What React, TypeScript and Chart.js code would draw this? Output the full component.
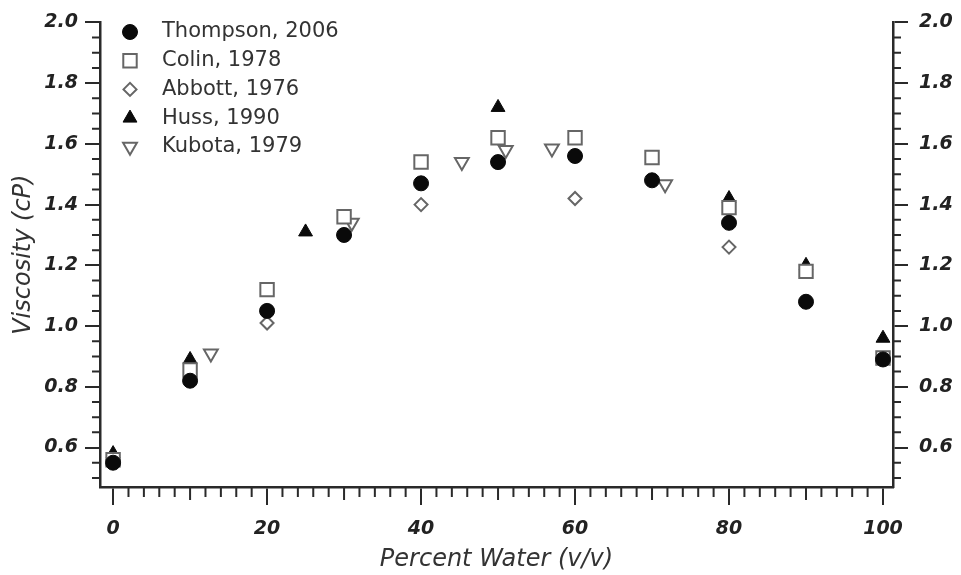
import { useEffect, useRef } from 'react';
import { Chart, registerables } from 'chart.js';
import { drawPoint } from 'chart.js/helpers';

Chart.register(...registerables);

const thompsonX = [0, 10, 20, 30, 40, 50, 60, 70, 80, 90, 100];
const thompsonY = [0.55, 0.82, 1.05, 1.30, 1.47, 1.54, 1.56, 1.48, 1.34, 1.08, 0.89];
const colinX = [0, 10, 20, 30, 40, 50, 60, 70, 80, 90, 100];
const colinY = [0.56, 0.855, 1.12, 1.36, 1.54, 1.62, 1.62, 1.555, 1.39, 1.18, 0.895];
const abbottX = [0, 20, 40, 60, 80];
const abbottY = [0.56, 1.01, 1.40, 1.42, 1.26];
const hussX = [0, 10, 25, 50, 80, 90, 100];
const hussY = [0.58, 0.89, 1.31, 1.72, 1.42, 1.20, 0.96];
const kubotaX = [12.7, 31, 45.3, 51, 57, 71.7];
const kubotaY = [0.91, 1.34, 1.54, 1.58, 1.585, 1.467];

const seriesNames = ['Thompson, 2006', 'Colin, 1978', 'Abbott, 1976', 'Huss, 1990', 'Kubota, 1979'];
const xMajorTicks = [0, 20, 40, 60, 80, 100];
const yMajorTicks = [0.6, 0.8, 1.0, 1.2, 1.4, 1.6, 1.8, 2.0];

const FONT = 'DejaVu Sans';
const AXIS = '#2a2a2a';
const OPEN = '#666';
const TEXT = '#222';

const toPts = (xs: number[], ys: number[]) => xs.map((x, i) => ({ x, y: ys[i] }));

const styles = [
  { pointStyle: 'circle', radius: 7.5, rotation: 0, fill: '#0a0a0a', stroke: '#0a0a0a', bw: 1 },
  { pointStyle: 'rect', radius: 9.5, rotation: 0, fill: '#fff', stroke: OPEN, bw: 2 },
  { pointStyle: 'rectRot', radius: 6.5, rotation: 0, fill: '#fff', stroke: OPEN, bw: 2 },
  { pointStyle: 'triangle', radius: 8, rotation: 0, fill: '#0a0a0a', stroke: '#0a0a0a', bw: 1 },
  { pointStyle: 'triangle', radius: 8, rotation: 180, fill: '#fff', stroke: OPEN, bw: 2 },
];

const legendPlugin = {
  id: 'customLegend',
  afterDraw(chart: any) {
    const ctx = chart.ctx;
    ctx.save();
    const x0 = 130;
    const y0 = 32;
    const dy = 28.7;
    styles.forEach((s, i) => {
      const y = y0 + i * dy;
      ctx.fillStyle = s.fill;
      ctx.strokeStyle = s.stroke;
      ctx.lineWidth = s.bw;
      drawPoint(ctx, { pointStyle: s.pointStyle, rotation: s.rotation, radius: s.radius, borderWidth: s.bw } as any, x0, y);
      ctx.fillStyle = '#333';
      ctx.font = `21px "${FONT}"`;
      ctx.textAlign = 'left';
      ctx.textBaseline = 'middle';
      ctx.fillText(seriesNames[i], 162, y);
    });
    ctx.restore();
  },
};

const minorTicksPlugin = {
  id: 'minorTicks',
  afterDraw(chart: any) {
    const ctx = chart.ctx;
    const xs = chart.scales.x;
    const ys = chart.scales.y;
    const area = chart.chartArea;
    ctx.save();
    ctx.strokeStyle = AXIS;
    ctx.lineWidth = 2;
    ctx.beginPath();
    for (let i = 0; i <= 50; i++) {
      const v = i * 2;
      if (v % 20 === 0) continue;
      const px = xs.getPixelForValue(v);
      const len = v % 10 === 0 ? 13 : 10;
      ctx.moveTo(px, area.bottom);
      ctx.lineTo(px, area.bottom + len);
    }
    for (let i = 10; i <= 40; i++) {
      if (i % 4 === 0) continue;
      const py = ys.getPixelForValue(i * 0.05);
      ctx.moveTo(area.left, py);
      ctx.lineTo(area.left - 8, py);
      ctx.moveTo(area.right, py);
      ctx.lineTo(area.right + 8, py);
    }
    ctx.stroke();
    ctx.restore();
  },
};

export default function App() {
  const ref = useRef<HTMLCanvasElement | null>(null);
  useEffect(() => {
    if (!ref.current) return;
    const all = [
      toPts(thompsonX, thompsonY),
      toPts(colinX, colinY),
      toPts(abbottX, abbottY),
      toPts(hussX, hussY),
      toPts(kubotaX, kubotaY),
    ];
    const datasets = all.map((data, i) => ({
      label: seriesNames[i],
      data,
      showLine: false,
      pointStyle: styles[i].pointStyle,
      pointRadius: styles[i].radius,
      pointRotation: styles[i].rotation,
      pointBackgroundColor: styles[i].fill,
      pointBorderColor: styles[i].stroke,
      pointBorderWidth: styles[i].bw,
      order: i,
    }));
    const yScaleBase = (pos: 'left' | 'right', width: number, pad: number) => ({
      type: 'linear' as const,
      position: pos,
      min: 0.47,
      max: 2.0,
      afterBuildTicks: (s: any) => {
        s.ticks = yMajorTicks.map((v) => ({ value: v }));
      },
      afterFit: (s: any) => {
        s.width = width;
      },
      border: { display: true, color: AXIS, width: 2.5 },
      grid: { display: true, drawOnChartArea: false, drawTicks: true, tickLength: 15, color: AXIS, lineWidth: 2 },
      ticks: {
        padding: pad,
        color: TEXT,
        font: { family: FONT, size: 19, weight: 'bold' as const, style: 'italic' as const },
        callback: (v: any) => Number(v).toFixed(1),
      },
    });
    const chart = new Chart(ref.current, {
      type: 'scatter',
      data: { datasets },
      plugins: [minorTicksPlugin, legendPlugin],
      options: {
        responsive: false,
        animation: false,
        layout: { padding: { top: 19, left: 0, right: 0, bottom: 0 } },
        plugins: { legend: { display: false }, tooltip: { enabled: false } },
        scales: {
          x: {
            type: 'linear',
            min: -1.7,
            max: 101.3,
            afterBuildTicks: (s: any) => {
              s.ticks = xMajorTicks.map((v) => ({ value: v }));
            },
            afterFit: (s: any) => {
              s.height = 88;
            },
            border: { display: true, color: AXIS, width: 2.5 },
            grid: { display: true, drawOnChartArea: false, drawTicks: true, tickLength: 18, color: AXIS, lineWidth: 2 },
            ticks: {
              padding: 13,
              color: TEXT,
              maxRotation: 0,
              font: { family: FONT, size: 19, weight: 'bold', style: 'italic' },
              callback: (v: any) => String(v),
            },
            title: {
              display: true,
              text: 'Percent Water (v/v)',
              color: '#333',
              padding: { top: 0, bottom: 1 },
              font: { family: FONT, size: 24, style: 'italic' },
            },
          },
          y: {
            ...yScaleBase('left', 100, 7),
            title: {
              display: true,
              text: 'Viscosity (cP)',
              color: '#333',
              padding: { top: 9, bottom: 0 },
              font: { family: FONT, size: 24, style: 'italic' },
            },
          },
          y2: yScaleBase('right', 68, 11),
        },
      } as any,
    });
    return () => chart.destroy();
  }, []);
  return (
    <div style={{ position: 'fixed', left: 0, top: 0, width: 961, height: 575, background: '#fff' }}>
      <canvas ref={ref} width={961} height={575} style={{ width: 961, height: 575 }} />
    </div>
  );
}
